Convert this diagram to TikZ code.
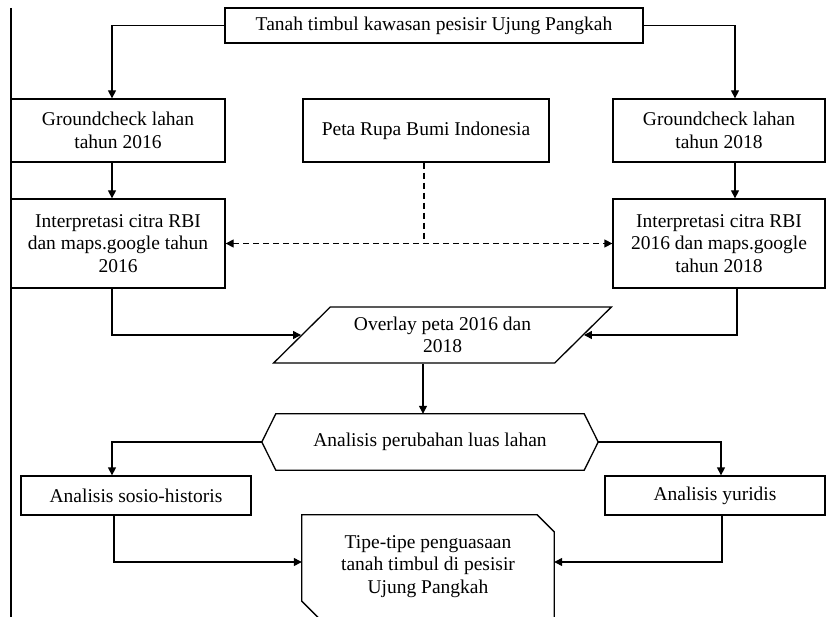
\documentclass[tikz,border=0pt]{standalone}
\usepackage{fontspec}
\setmainfont{Liberation Serif}
\usetikzlibrary{arrows.meta,shapes.geometric,calc}
\begin{document}
\begin{tikzpicture}[x=1pt,y=-1pt,
  every node/.style={font=\fontsize{19.5}{22.5}\selectfont, inner sep=0pt, align=center},
  rbox/.style={draw, line width=1.3pt},
  outl/.style={line width=1.3pt},
  arr/.style={line width=1.3pt, -{Triangle[length=8pt,width=8pt]}},
  dline/.style={line width=1.3pt, dash pattern=on 6pt off 4pt}
]
\fill[white] (0,0) rectangle (826,617);
\useasboundingbox (0,0) rectangle (826,617);

\draw[outl] (11,8) -- (11,625);

\node[rbox, minimum width=418pt, minimum height=35pt] (top) at (434,25.5) {Tanah timbul kawasan pesisir Ujung Pangkah};
\node[rbox, minimum width=214pt, minimum height=63pt] (g16) at (118,130.5) {Groundcheck lahan\\tahun 2016};
\node[rbox, minimum width=246pt, minimum height=63pt] (peta) at (426,130.5) {Peta Rupa Bumi Indonesia};
\node[rbox, minimum width=212pt, minimum height=63pt] (g18) at (719,130.5) {Groundcheck lahan\\tahun 2018};
\node[rbox, minimum width=214pt, minimum height=89pt] (i16) at (118,243.5) {Interpretasi citra RBI\\dan maps.google tahun\\2016};
\node[rbox, minimum width=212pt, minimum height=89pt] (i18) at (719,243.5) {Interpretasi citra RBI\\2016 dan maps.google\\tahun 2018};
\node[draw, line width=1.3pt, trapezium, trapezium left angle=39, trapezium right angle=141,
      trapezium stretches=true, minimum width=339pt, minimum height=56pt] (ov) at (442.5,335) {Overlay peta 2016 dan\\2018};

\node[minimum width=336pt, minimum height=56pt] (hex) at (430,442) {Analisis perubahan luas lahan};
\draw[outl] (hex.west) -- ($(hex.north west)+(14,0)$) -- ($(hex.north east)+(-14,0)$) -- (hex.east)
  -- ($(hex.south east)+(-14,0)$) -- ($(hex.south west)+(14,0)$) -- cycle;

\node[rbox, minimum width=230pt, minimum height=39pt] (sosio) at (136,495.5) {Analisis sosio-historis};
\node[rbox, minimum width=220pt, minimum height=39pt] (yur) at (715,495.5) {Analisis yuridis};

\node[minimum width=252pt, minimum height=103pt] (fin) at (428,566.5) {Tipe-tipe penguasaan\\tanah timbul di pesisir\\Ujung Pangkah};
\draw[outl] (fin.north west) -- ($(fin.north east)+(-17,0)$) -- ($(fin.north east)+(0,17)$) -- (fin.south east)
  -- ($(fin.south west)+(17,0)$) -- ($(fin.south west)+(0,-17)$) -- cycle;

% connectors
\draw[arr] (top.west) -| ([xshift=-6pt]g16.north);
\draw[arr] (top.east) -| ([xshift=16pt]g18.north);
\draw[arr] ([xshift=-6pt]g16.south) -- ([xshift=-6pt]i16.north);
\draw[arr] ([xshift=16pt]g18.south) -- ([xshift=16pt]i18.north);
\coordinate (pd) at ($(peta.south)+(-2,0)$);
\draw[dline] (pd) -- (pd |- i16.east);
\draw[dline, {Triangle[length=8pt,width=8pt]}-{Triangle[length=8pt,width=8pt]}] (i16.east) -- (i18.west);
\draw[arr] ([xshift=-6pt]i16.south) |- (ov.west);
\draw[arr] ([xshift=18pt]i18.south) |- (ov.east);
\coordinate (hexin) at ($(hex.north)+(-7,0)$);
\draw[arr] (hexin |- ov.south) -- (hexin);
\draw[arr] (hex.west) -| ([xshift=-24pt]sosio.north);
\draw[arr] (hex.east) -| ([xshift=6pt]yur.north);
\draw[arr] ([xshift=-22pt]sosio.south) |- ([yshift=4.5pt]fin.west);
\draw[arr] ([xshift=7pt]yur.south) |- ([yshift=4.5pt]fin.east);
\end{tikzpicture}
\end{document}
